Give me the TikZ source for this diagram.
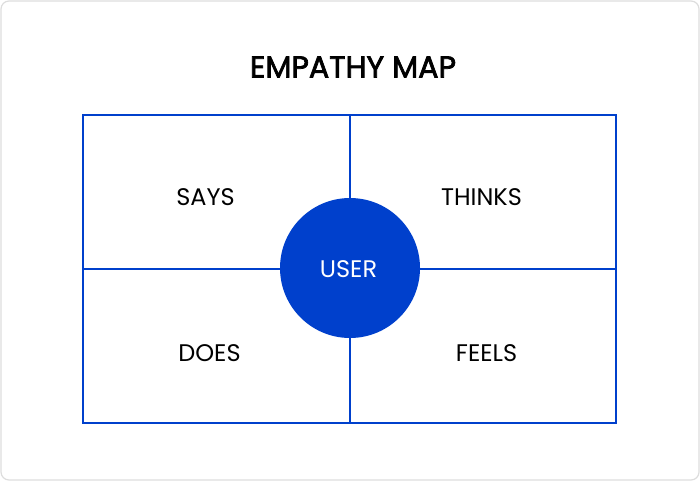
\documentclass[tikz,border=0pt]{standalone}
\usepackage{fontspec}
\setmainfont{Poppins}
\newcommand{\heavytext}[1]{\special{pdf:literal 2 Tr 0.7 w}#1\special{pdf:literal 0 Tr}}
\definecolor{mapblue}{HTML}{0040CC}
\definecolor{framegray}{HTML}{DDDDDD}
\begin{document}
\begin{tikzpicture}[x=1pt,y=-1pt,
  cellline/.style={draw=mapblue,line width=2pt},
  lbl/.style={font=\fontsize{24}{24}\selectfont,text=black,inner sep=0pt,anchor=base},
  ttl/.style={font=\fontsize{30.2}{30.2}\selectfont,text=black,inner sep=0pt,anchor=base}]
\useasboundingbox (0,0) rectangle (700,481);
\draw[framegray,line width=1.2pt,rounded corners=8pt] (1,1) rectangle (699,480);
\node[cellline,rectangle,minimum width=533pt,minimum height=307pt,inner sep=0pt] (grid) at (349.5,269) {};
\coordinate (topmid) at (grid.north);
\coordinate (botmid) at (grid.south);
\coordinate (leftmid) at (grid.west);
\coordinate (rightmid) at (grid.east);
\draw[cellline] (topmid) -- (botmid);
\draw[cellline] (leftmid) -- (rightmid);
\node[circle,fill=mapblue,minimum size=140pt,inner sep=0pt] (user) at (350,268) {};
\node[lbl,text=white] (usertxt) at (348.5,277) {USER};
\node[lbl] (says) at (205.5,205) {SAYS};
\node[lbl] (thinks) at (481.5,205) {THINKS};
\node[lbl] (does) at (209.5,361) {DOES};
\node[lbl] (feels) at (486.5,361) {FEELS};
\node[ttl] (title) at (353,77.5) {\heavytext{EMPATHY MAP}};
\end{tikzpicture}
\end{document}
